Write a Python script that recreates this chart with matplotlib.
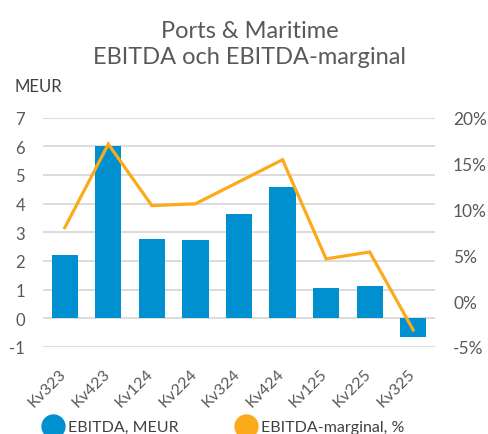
import matplotlib
matplotlib.use("Agg")
import matplotlib.pyplot as plt
import matplotlib.transforms as mtransforms
from matplotlib.lines import Line2D
import numpy as np

categories = ["Kv323", "Kv423", "Kv124", "Kv224", "Kv324", "Kv424", "Kv125", "Kv225", "Kv325"]
ebitda = [2.2, 6.0, 2.78, 2.73, 3.63, 4.59, 1.05, 1.13, -0.64]
margin = [8.0, 17.1, 10.4, 10.6, 13.0, 15.4, 4.6, 5.35, -3.15]
left_ticks = [-1, 0, 1, 2, 3, 4, 5, 6, 7]
right_ticks = [-5, 0, 5, 10, 15, 20]

plt.rcParams['font.family'] = ['Lato', 'DejaVu Sans']

BLUE = "#0090D0"
ORANGE = "#FBAA19"
GRID = "#D9D9D9"
TXT = "#595959"

fig = plt.figure(figsize=(4.88, 4.35), dpi=100)
ax = fig.add_axes([43/488, 1-348/435, 392/488, 229.5/435])
x = np.arange(len(categories))
ax.bar(x, ebitda, width=0.6, color=BLUE, zorder=2)
ax.set_xlim(-0.5, len(categories)-0.5)
ax.set_ylim(-1, 7)
ax.set_yticks(left_ticks)
ax.set_yticklabels([str(v) for v in left_ticks])
ax.grid(axis='y', color=GRID, linewidth=1.3, zorder=0)
ax.set_axisbelow(True)
for s in ax.spines.values():
    s.set_visible(False)
ax.tick_params(axis='y', length=0, pad=13, labelsize=12, labelcolor=TXT)
ax.tick_params(axis='x', length=0, pad=14, labelsize=11.5, labelcolor=TXT)
ax.set_xticks(x)
ax.set_xticklabels(categories, rotation=45, ha='right', va='top')
off = mtransforms.ScaledTranslation(4/100, 0, fig.dpi_scale_trans)
for lab in ax.get_xticklabels():
    lab.set_transform(lab.get_transform() + off)

ax2 = ax.twinx()
ax2.plot(x, margin, color=ORANGE, linewidth=2.3, zorder=3, solid_joinstyle='miter')
ax2.set_ylim(-5, 20)
ax2.set_yticks(right_ticks)
ax2.set_yticklabels([f"{v}%" for v in right_ticks])
for s in ax2.spines.values():
    s.set_visible(False)
ax2.tick_params(axis='y', length=0, pad=13, labelsize=12.5, labelcolor=TXT)

fig.text(250/488, 1-64/435, "Ports & Maritime\nEBITDA och EBITDA-marginal",
         ha='center', va='baseline', fontsize=17, color=TXT, linespacing=1.3)
fig.text(15/488, 1-87/435, "MEUR", ha='left', va='center', fontsize=12, color="#404040")

handles = [Line2D([], [], marker='o', linestyle='none', markersize=16.5, color=BLUE),
           Line2D([], [], marker='o', linestyle='none', markersize=16.5, color=ORANGE)]
fig.legend(handles, ["EBITDA, MEUR", "EBITDA-marginal, %"], loc='center left',
           bbox_to_anchor=(27/488, 1-428/435), ncol=2, frameon=False, fontsize=11.5,
           handletextpad=0.15, columnspacing=3.5, labelcolor="#404040", handlelength=1.5)

fig.savefig("out.png", dpi=100)
